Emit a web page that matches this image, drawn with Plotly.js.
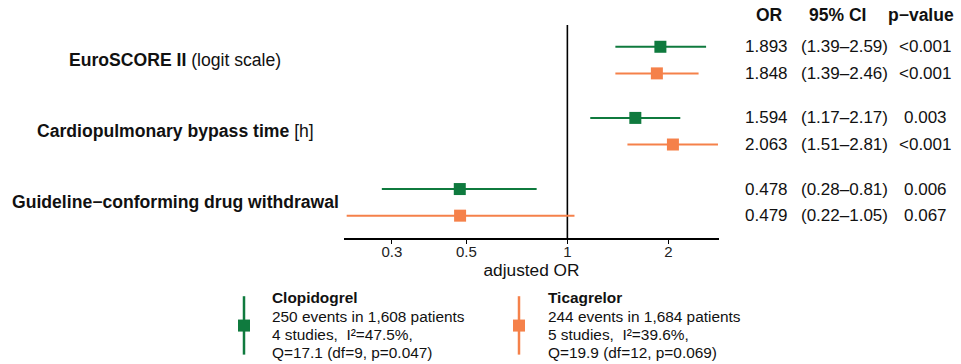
<!DOCTYPE html>
<html>
<head>
<meta charset="utf-8">
<script src="https://cdn.plot.ly/plotly-3.0.1.min.js"></script>
<style>html,body{margin:0;padding:0;background:#fff;}#chart{width:961px;height:364px;}</style>
</head>
<body>
<div id="chart"></div>
<script>
// ---- data ----
const predictorBold = ['EuroSCORE II', 'Cardiopulmonary bypass time', 'Guideline\u2212conforming drug withdrawal'];
const predictorSuffix = [' (logit scale)', ' [h]', ''];
const drugs = ['Clopidogrel', 'Ticagrelor'];

const clopOR = [1.893, 1.594, 0.478];
const clopLo = [1.39, 1.17, 0.28];
const clopHi = [2.59, 2.17, 0.81];
const clopP  = ['<0.001', '0.003', '0.006'];

const ticaOR = [1.848, 2.063, 0.479];
const ticaLo = [1.39, 1.51, 0.22];
const ticaHi = [2.46, 2.81, 1.05];
const ticaP  = ['<0.001', '<0.001', '0.067'];

const tickVals = [0.3, 0.5, 1, 2];
const tickText = ['0.3', '0.5', '1', '2'];

const headers = ['OR', '95% CI', 'p\u2212value'];

const clopLegend = ['250 events in 1,608 patients', '4 studies,\u00a0\u00a0I\u00b2=47.5%,', 'Q=17.1 (df=9, p=0.047)'];
const ticaLegend = ['244 events in 1,684 patients', '5 studies,\u00a0\u00a0I\u00b2=39.6%,', 'Q=19.9 (df=12, p=0.069)'];

// ---- styles ----
const colors = ['#0f7a3e', '#f5814a'];
const FONT = 'Liberation Sans, Arial, Helvetica, sans-serif';
const TXT = '#111111';
const off = 0.187;

const series = [
  {name: drugs[0], or: clopOR, lo: clopLo, hi: clopHi, p: clopP, legend: clopLegend},
  {name: drugs[1], or: ticaOR, lo: ticaLo, hi: ticaHi, p: ticaP, legend: ticaLegend}
];

function yPos(gi, si) { return gi + (si === 0 ? -off : off); }

const traces = series.map((s, si) => ({
  type: 'scatter',
  mode: 'markers',
  name: s.name,
  x: s.or,
  y: s.or.map((_, gi) => yPos(gi, si)),
  marker: {symbol: 'square', size: 12, color: colors[si], line: {width: 0}},
  error_x: {
    type: 'data', symmetric: false,
    array: s.hi.map((h, i) => h - s.or[i]),
    arrayminus: s.lo.map((l, i) => s.or[i] - l),
    color: colors[si], thickness: 2, width: 0
  },
  showlegend: false,
  hoverinfo: 'x+y'
}));

// pixel helpers (plot area: x 344..719, y 25..237.6)
const L = 344, R = 719, T = 25, B = 237.6;
const px = v => (v - L) / (R - L);
const py = v => 1 - (v - T) / (B - T);

const annotations = [];
// left labels
predictorBold.forEach((b, gi) => {
  annotations.push({
    xref: 'paper', yref: 'y', x: px(175), y: gi, xanchor: 'center', yanchor: 'middle',
    text: '<b>' + b + '</b>' + predictorSuffix[gi], showarrow: false,
    font: {family: FONT, size: 17.6, color: TXT}
  });
});
// headers
const headerX = [769, 837, 921];
headers.forEach((h, i) => {
  annotations.push({
    xref: 'paper', yref: 'paper', x: px(headerX[i]), y: py(15), xanchor: 'center', yanchor: 'middle',
    text: '<b>' + h + '</b>', showarrow: false, font: {family: FONT, size: 17.5, color: TXT}
  });
});
// right columns
const colX = [766, 844, 925];
series.forEach((s, si) => {
  s.or.forEach((v, gi) => {
    const y = yPos(gi, si);
    const cells = [v.toFixed(3), '(' + s.lo[gi].toFixed(2) + '\u2013' + s.hi[gi].toFixed(2) + ')', s.p[gi]];
    cells.forEach((c, ci) => {
      annotations.push({
        xref: 'paper', yref: 'y', x: px(colX[ci]), y: y, xanchor: 'center', yanchor: 'middle',
        text: c, showarrow: false, font: {family: FONT, size: 17, color: TXT}
      });
    });
  });
});
// legend text
const legTextX = [270, 545.5];
const legLineY = [296.7, 315.7, 334, 352];
series.forEach((s, si) => {
  const lines = ['<b>' + s.name + '</b>'].concat(s.legend);
  lines.forEach((t, li) => {
    annotations.push({
      xref: 'paper', yref: 'paper', x: px(legTextX[si]), y: py(legLineY[li]), xanchor: 'left', yanchor: 'middle',
      text: t, showarrow: false, font: {family: FONT, size: 15.4, color: TXT}
    });
  });
});

// shapes: reference line + legend glyphs
const shapes = [{
  type: 'line', xref: 'x', yref: 'paper', x0: 1, x1: 1, y0: 0, y1: 1,
  line: {color: '#000', width: 1.6}, layer: 'below'
}];
const legGlyphX = [244, 519];
legGlyphX.forEach((gx, si) => {
  shapes.push({type: 'line', xref: 'paper', yref: 'paper', x0: px(gx), x1: px(gx), y0: py(295.7), y1: py(354),
    line: {color: colors[si], width: 2.5}});
  shapes.push({type: 'rect', xref: 'paper', yref: 'paper', x0: px(gx - 6), x1: px(gx + 6), y0: py(319), y1: py(331),
    fillcolor: colors[si], line: {width: 0}});
});

const layout = {
  width: 961, height: 364,
  margin: {l: L, r: 961 - R, t: T, b: 364 - B},
  paper_bgcolor: '#fff', plot_bgcolor: '#fff',
  showlegend: false,
  font: {family: FONT, color: TXT},
  xaxis: {
    type: 'log',
    range: [Math.log10(0.216), Math.log10(2.83)],
    tickvals: tickVals, ticktext: tickText,
    ticks: 'outside', ticklen: 4, tickwidth: 1.2, tickcolor: '#000',
    ticklabelstandoff: -5,
    showline: true, linecolor: '#000', linewidth: 1.6,
    showgrid: false, zeroline: false,
    tickfont: {family: FONT, size: 15, color: '#222'},
    title: {text: 'adjusted OR', font: {family: FONT, size: 17.3, color: TXT}, standoff: 0},
    fixedrange: true
  },
  yaxis: {
    range: [2.501, -0.493],
    visible: false, showgrid: false, zeroline: false, fixedrange: true
  },
  annotations: annotations,
  shapes: shapes
};

Plotly.newPlot('chart', traces, layout, {displayModeBar: false, staticPlot: true});
</script>
</body>
</html>
